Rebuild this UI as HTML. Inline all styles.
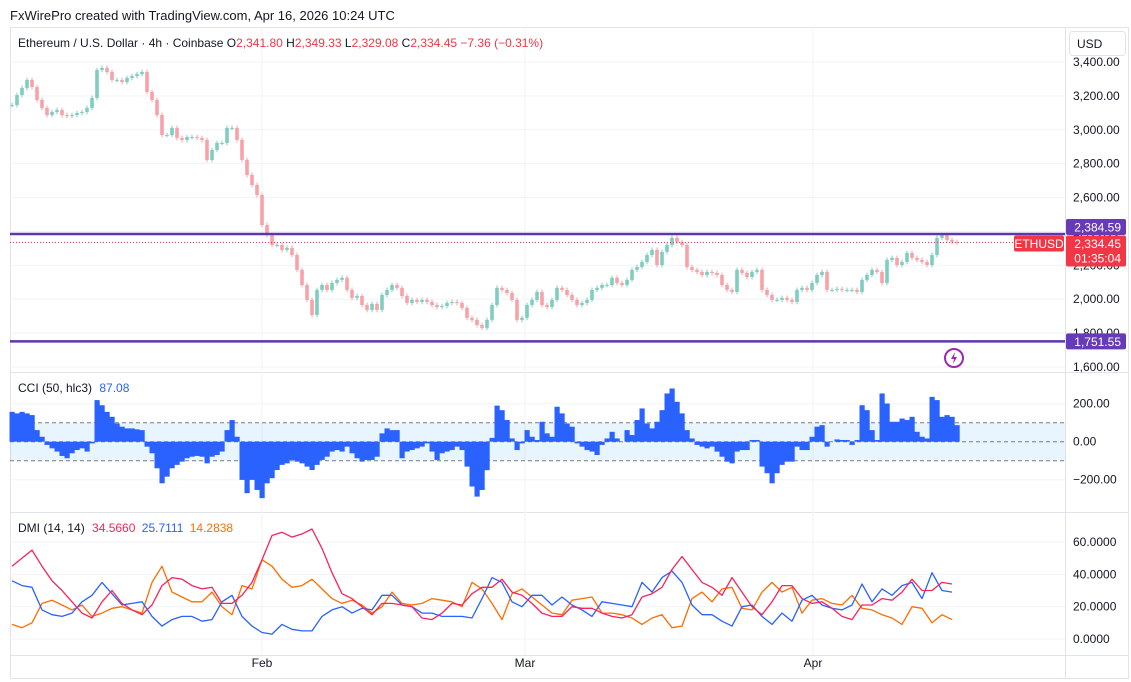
<!DOCTYPE html>
<html><head><meta charset="utf-8"><style>
html,body{margin:0;padding:0;background:#fff;}
svg{display:block;font-family:"Liberation Sans",sans-serif;}
</style></head><body>
<svg id="chart" width="1131" height="682" viewBox="0 0 1131 682" xmlns="http://www.w3.org/2000/svg">
<text x="10" y="20" font-size="13" fill="#131722">FxWirePro created with TradingView.com, Apr 16, 2026 10:24 UTC</text>
<rect x="10.5" y="27.5" width="1118" height="651" fill="none" stroke="#e0e3eb"/>
<g id="grid"></g>
<g id="pricePane"></g>
<g id="cciPane"></g>
<g id="dmiPane"></g>
<g id="axes"></g>
<text x="18" y="47" font-size="12" fill="#131722">Ethereum / U.S. Dollar · 4h · Coinbase <tspan fill="#131722">O</tspan><tspan fill="#f23645">2,341.80</tspan> <tspan fill="#131722">H</tspan><tspan fill="#f23645">2,349.33</tspan> <tspan fill="#131722">L</tspan><tspan fill="#f23645">2,329.08</tspan> <tspan fill="#131722">C</tspan><tspan fill="#f23645">2,334.45 −7.36 (−0.31%)</tspan></text>
<rect x="1069.5" y="31.5" width="56" height="24" rx="3" fill="#fff" stroke="#e0e3eb"/>
<text x="1077" y="48" font-size="12" fill="#131722">USD</text>
<text x="18" y="392" font-size="12" fill="#131722">CCI (50, hlc3) <tspan fill="#2962ff" dx="4">87.08</tspan></text>
<text x="18" y="532" font-size="12" fill="#131722">DMI (14, 14) <tspan fill="#f7245d" dx="4">34.5660</tspan> <tspan fill="#2962ff" dx="3">25.7111</tspan> <tspan fill="#ff6d00" dx="3">14.2838</tspan></text>
<g transform="translate(954,358)">
<circle r="9" fill="none" stroke="#9c27b0" stroke-width="2"/>
<path d="M1,-6 L-3,1 L0,1 L-1,6 L3,-1 L0,-1 Z" fill="#9c27b0"/>
</g>
</svg>
<script>
// ---- data ----
const closes = [3146,3205,3247,3294,3252,3176,3129,3087,3105,3117,
3087,3081,3087,3099,3105,3129,3188,3353,3365,3341,
3294,3294,3282,3306,3317,3329,3341,3223,3176,3087,
2969,2969,3011,2952,2940,2957,2957,2952,2940,2822,
2881,2922,2922,3011,3011,2940,2822,2733,2674,2615,
2438,2379,2320,2320,2291,2303,2261,2173,2084,1996,
1907,2055,2084,2055,2096,2114,2126,2055,2008,2019,
1966,1937,1972,1937,2025,2055,2084,2067,2019,1978,
1996,1984,1996,1984,1966,1954,1960,1978,1984,1978,
1949,1890,1878,1848,1831,1878,1966,2067,2055,2037,
1996,1878,1890,1966,1996,2043,1966,1954,1996,2067,
2055,2025,1996,1966,1978,1996,2055,2067,2084,2084,
2126,2096,2084,2114,2173,2190,2220,2261,2291,2202,
2279,2320,2362,2338,2320,2190,2173,2161,2143,2161,
2155,2143,2084,2055,2043,2173,2155,2131,2161,2173,
2055,2025,1996,1996,2008,1996,1984,2055,2067,2055,
2096,2143,2161,2055,2055,2061,2055,2055,2055,2043,
2114,2143,2173,2161,2096,2232,2244,2202,2220,2273,
2244,2232,2220,2202,2261,2362,2379,2350,2338,2334.45];
const cciValues = [157,149,157,149,140,61,26,-17,-35,-52,
-75,-87,-61,-44,-35,-52,-9,219,192,157,
131,96,79,70,70,65,61,-26,-61,-140,
-219,-184,-140,-122,-105,-87,-79,-75,-79,-114,
-79,-70,-52,61,114,26,-201,-271,-201,-254,
-297,-219,-192,-149,-122,-114,-96,-105,-114,-131,
-149,-122,-96,-79,-52,-44,-52,-26,-61,-87,
-105,-96,-96,-79,44,70,61,61,-87,-52,
-44,-35,-26,-9,-52,-96,-61,-52,-44,-26,
-44,-131,-236,-289,-254,-150,20,190,166,114,
17,-44,-9,61,26,9,105,44,26,184,
149,96,79,-9,-26,-44,-52,-70,-17,17,
52,17,0,61,35,114,175,96,70,105,
166,254,280,210,149,61,17,-17,-26,-35,
-26,-52,-79,-105,-114,-52,-44,-44,9,9,
-131,-166,-219,-166,-122,-105,-105,-26,-44,-44,
26,79,87,-26,0,12,9,9,-17,9,
192,166,61,9,254,201,105,105,122,114,
131,52,26,17,236,219,131,140,131,87];
const adxValues = [45,50,55,45,36,30,23,16,13,23,30,22,18,15,21,33,38,37,33,31,32,22,22,27,35,49,64,66,63,65,68,56,41,28,25,20,15,22,22,21,20,13,12,16,22,21,28,32,32,
37,29,27,22,16,14,14,20,19,19,16,14,13,15,26,28,32,43,51,43,35,32,27,38,29,20,15,23,33,33,25,22,23,19,14,12,21,21,25,24,29,37,30,30,35,34];
const plusDI = [36,33,32,18,15,14,16,23,27,35,28,21,22,23,14,8,12,14,14,11,12,23,27,14,8,4,3,9,6,5,5,14,18,20,16,19,18,27,27,21,20,16,16,14,14,14,13,25,38,
35,23,20,27,27,21,26,21,18,14,23,22,21,20,35,29,38,42,35,21,15,15,11,8,20,21,14,9,16,11,24,27,21,19,18,21,34,23,31,27,33,35,25,41,30,29];
const minusDI = [9,7,10,22,24,21,18,21,14,16,19,20,18,16,35,45,29,26,23,23,29,20,15,33,31,49,45,37,32,33,37,31,25,22,24,21,16,20,29,22,21,22,25,24,23,20,35,31,22,
12,28,31,26,21,16,15,24,25,26,16,16,15,13,9,13,15,7,8,25,29,23,31,32,19,18,29,35,29,32,16,24,25,22,21,27,19,18,15,13,9,20,19,10,15,12];
const priceTicks = [3400,3200,3000,2800,2600,2400,2200,2000,1800,1600];
const cciTicks = [200,0,-200];
const dmiTicks = [60,40,20,0];
const monthLabels = ["Feb","Mar","Apr"];
const monthIndex = [50,102.6,160.2];
const resistance = 2384.59, support = 1751.55;

// ---- scales ----
const X0 = 12, STEP = 5, PLOT_R = 1065;
const xScale = i => X0 + i*STEP;
const yPrice = p => 62 + (3400 - p) * 0.16944;
const yCci = v => 441.7 - v * 0.19;
const yDmi = v => 639 - v * 1.617;
const NS = "http://www.w3.org/2000/svg";
function mk(tag, attrs, parent){ const e=document.createElementNS(NS,tag); for(const k in attrs) e.setAttribute(k,attrs[k]); parent.appendChild(e); return e; }
const fmt = (v,d) => (v<0?"−":"") + Math.abs(v).toLocaleString("en-US",{minimumFractionDigits:d,maximumFractionDigits:d});

const grid = document.getElementById("grid"), axes = document.getElementById("axes");
[372,512,655].forEach(y=>{ const l=mk("line",{x1:10,x2:1128,y1:y+0.5,y2:y+0.5,stroke:"#e0e3eb"},grid);

 });
const vs=mk("line",{x1:PLOT_R+0.5,x2:PLOT_R+0.5,y1:27,y2:678,stroke:"#e0e3eb"},grid);


monthLabels.forEach((m,k)=>{ const x=xScale(monthIndex[k]);
 const g=mk("line",{x1:x,x2:x,y1:27,y2:655,stroke:"#f0f3fa"},grid);
 
 
 const t=mk("text",{x:x,y:667,"font-size":12,fill:"#131722","text-anchor":"middle"},axes); t.textContent=m;
 
  });
priceTicks.forEach(p=>{ const y=yPrice(p);
 const g=mk("line",{x1:10,x2:PLOT_R,y1:y,y2:y,stroke:"#f0f3fa"},grid);
 
 
 const t=mk("text",{x:1073,y:y+4,"font-size":12,fill:"#131722"},axes); t.textContent=fmt(p,2);
 
  });
cciTicks.forEach(v=>{ const y=yCci(v);
 if(v!==0){ const g=mk("line",{x1:10,x2:PLOT_R,y1:y,y2:y,stroke:"#f0f3fa"},grid);
 
  }
 const t=mk("text",{x:1073,y:y+4,"font-size":12,fill:"#131722"},axes); t.textContent=fmt(v,2);
 
  });
dmiTicks.forEach(v=>{ const y=yDmi(v);
 const g=mk("line",{x1:10,x2:PLOT_R,y1:y,y2:y,stroke:"#f0f3fa"},grid);
 
 
 const t=mk("text",{x:1073,y:y+4,"font-size":12,fill:"#131722"},axes); t.textContent=fmt(v,4);
 
  });

// ---- price pane ----
const pp = document.getElementById("pricePane");
closes.forEach((c,i)=>{
 const o = i===0 ? c : closes[i-1];
 const up = c>=o, x=xScale(i);
 const hi=Math.max(o,c)+14, lo=Math.min(o,c)-14;
 const col = up ? "#7fcdbf" : "#f7a1a8";
 const w=mk("line",{x1:x,x2:x,y1:yPrice(hi),y2:yPrice(lo),stroke:col,"stroke-width":1},pp);
 
 
 const yt=yPrice(Math.max(o,c)), yb=yPrice(Math.min(o,c));
 const b=mk("rect",{x:x-1.8,y:yt,width:3.6,height:Math.max(1,yb-yt),fill:col},pp);
 
 
});
[[resistance,"resistance",-15],[support,"support",-8]].forEach(([v,n,off])=>{
 const y=yPrice(v);
 const l=mk("line",{x1:10,x2:PLOT_R,y1:y,y2:y,stroke:"#5e35b1","stroke-width":2.5},pp);
 
 
 const r=mk("rect",{x:1066,y:y+off,width:60,height:16,rx:2,fill:"#673ab7"},axes);
 
 
 const t=mk("text",{x:1121,y:y+off+12.5,"font-size":12,fill:"#fff","text-anchor":"end"},axes); t.textContent=fmt(v,2);
 
 
});
const last=closes[closes.length-1], yl=yPrice(last);
const dl=mk("line",{x1:10,x2:PLOT_R,y1:yl,y2:yl,stroke:"#f23645","stroke-dasharray":"1 2"},pp);


const sl=mk("rect",{x:1014,y:yl-7,width:50,height:16,rx:2,fill:"#f23645"},axes);


const st=mk("text",{x:1039,y:yl+5.5,"font-size":12,fill:"#fff","text-anchor":"middle"},axes); st.textContent="ETHUSD";


const lb=mk("rect",{x:1066,y:yl-7,width:60,height:31,rx:2,fill:"#f23645"},axes);


const lt=mk("text",{x:1121,y:yl+5.5,"font-size":12,fill:"#fff","text-anchor":"end"},axes); lt.textContent=fmt(last,2);


const ct=mk("text",{x:1121,y:yl+20,"font-size":12,fill:"#fff","text-anchor":"end"},axes); ct.textContent="01:35:04";



// ---- CCI pane ----
const cp=document.getElementById("cciPane");
const band=mk("rect",{x:10,y:yCci(100),width:PLOT_R-10,height:yCci(-100)-yCci(100),fill:"rgba(33,150,243,0.1)"},cp);


[100,0,-100].forEach(v=>{ const l=mk("line",{x1:10,x2:PLOT_R,y1:yCci(v),y2:yCci(v),stroke:"#787b86","stroke-dasharray":"4 3","stroke-width":1},cp);
 
  });
cciValues.forEach((v,i)=>{
 const y0=yCci(0), y1=yCci(v);
 const r=mk("rect",{x:xScale(i)-2.5,y:Math.min(y0,y1),width:5.2,height:Math.abs(y1-y0),fill:"#2962ff"},cp);
 
 
});

// ---- DMI pane ----
const dp=document.getElementById("dmiPane");
function line(arr,col,name){
 const pts=arr.map((v,i)=>xScale(i*2).toFixed(1)+","+yDmi(v).toFixed(1)).join(" ");
 const p=mk("polyline",{points:pts,fill:"none",stroke:col,"stroke-width":1.3,"stroke-linejoin":"round"},dp);
 
 
}
line(minusDI,"#ff6d00","minus-di-line");
line(plusDI,"#2962ff","plus-di-line");
line(adxValues,"#f7245d","adx-line");
</script>
</body></html>
